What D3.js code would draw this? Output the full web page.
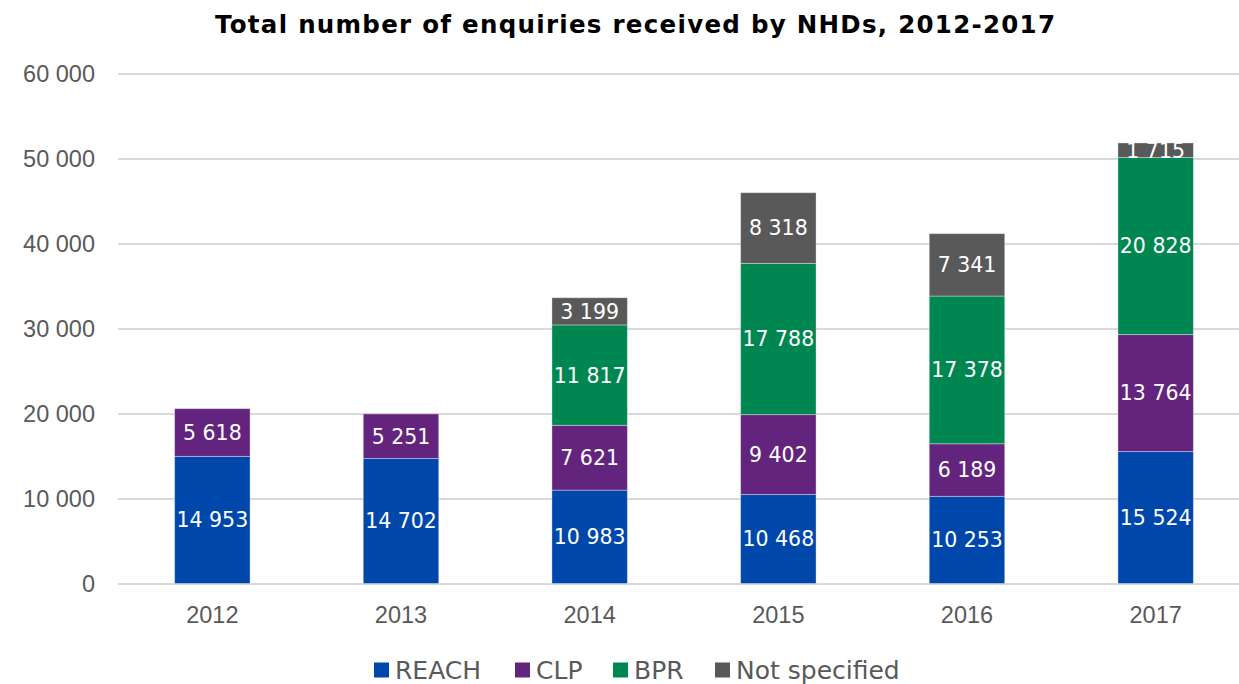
<!DOCTYPE html>
<html>
<head>
<meta charset="utf-8">
<script src="https://cdn.jsdelivr.net/npm/d3@7"></script>
<style>
  body { margin: 0; background: #fff; }
  svg { font-family: "DejaVu Sans", Verdana, sans-serif; }
</style>
</head>
<body>
<svg id="chart"></svg>
<script>
// data
const years = ['2012', '2013', '2014', '2015', '2016', '2017'];
const seriesNames = ['REACH', 'CLP', 'BPR', 'Not specified'];
const reach = [14953, 14702, 10983, 10468, 10253, 15524];
const clp = [5618, 5251, 7621, 9402, 6189, 13764];
const bpr = [0, 0, 11817, 17788, 17378, 20828];
const notSpecified = [0, 0, 3199, 8318, 7341, 1715];
const yTicks = [0, 10000, 20000, 30000, 40000, 50000, 60000];

const colors = ['#0047ab', '#63247d', '#008751', '#595959'];
const config = {
    width: 1239,
    height: 684,
    left: 118,
    right: 1250,
    top: 73.5,
    bottom: 583.5
};

const locale = d3.formatLocale({decimal: ',', thousands: '\u00a0', grouping: [3], currency: ['', '']});
const fmt = locale.format(',d');

// build table for the stack
const table = years.map((y, i) => ({
    year: y,
    'REACH': reach[i],
    'CLP': clp[i],
    'BPR': bpr[i],
    'Not specified': notSpecified[i]
}));
const stacked = d3.stack().keys(seriesNames)(table);

let svg = d3.select('#chart')
    .attr('width', config.width)
    .attr('height', config.height);

// scales
let xScale = d3.scaleBand()
    .domain(years)
    .range([config.left, config.right])
    .paddingInner(0.6)
    .paddingOuter(0.3);

let yScale = d3.scaleLinear()
    .domain([0, 60000])
    .range([config.bottom, config.top]);

// gridlines + y labels
let yAxis = svg.append('g')
    .attr('transform', `translate(${config.left},0)`)
    .call(d3.axisLeft(yScale).tickValues(yTicks).tickFormat(fmt)
        .tickSize(-(config.width - config.left)).tickPadding(23));
yAxis.select('.domain').remove();
yAxis.selectAll('line').attr('stroke', '#d9d9d9').attr('stroke-width', 2);
yAxis.selectAll('text').attr('fill', '#595959').style('font-size', '23.5px');

// x labels
let xAxis = svg.append('g')
    .attr('transform', `translate(0,${config.bottom})`)
    .call(d3.axisBottom(xScale).tickSize(0).tickPadding(23));
xAxis.select('.domain').remove();
xAxis.selectAll('text').attr('fill', '#595959').style('font-size', '23.5px');

// bars
let groups = svg.selectAll('g.series')
    .data(stacked)
    .enter()
    .append('g')
    .attr('class', 'series')
    .attr('fill', (d, i) => colors[i]);

groups.selectAll('rect')
    .data(d => d.filter(s => s[1] - s[0] > 0))
    .enter()
    .append('rect')
    .attr('x', d => xScale(d.data.year))
    .attr('width', xScale.bandwidth())
    .attr('y', d => yScale(d[1]))
    .attr('height', d => yScale(d[0]) - yScale(d[1]))
    .attr('stroke', '#ffffff')
    .attr('stroke-opacity', 0.35)
    .attr('stroke-width', 1);

groups.selectAll('text')
    .data(d => d.filter(s => s[1] - s[0] > 0))
    .enter()
    .append('text')
    .attr('x', d => xScale(d.data.year) + xScale.bandwidth() / 2)
    .attr('y', d => yScale((d[0] + d[1]) / 2))
    .attr('dy', '0.36em')
    .attr('text-anchor', 'middle')
    .attr('fill', '#ffffff')
    .style('font-size', '20.5px')
    .text(d => fmt(d[1] - d[0]));

// title
svg.append('text')
    .attr('x', 635)
    .attr('y', 33)
    .attr('text-anchor', 'middle')
    .attr('textLength', 840)
    .attr('lengthAdjust', 'spacing')
    .style('font-size', '24.5px')
    .style('font-weight', 'bold')
    .attr('fill', '#000')
    .text('Total number of enquiries received by NHDs, 2012-2017');

// legend
const legendX = [374, 515, 613, 715];
let legend = svg.append('g').attr('transform', 'translate(0,670)');
let items = legend.selectAll('g')
    .data(seriesNames)
    .enter()
    .append('g')
    .attr('transform', (d, i) => `translate(${legendX[i]},0)`);
items.append('rect')
    .attr('x', 0)
    .attr('y', -7.5)
    .attr('width', 15)
    .attr('height', 15)
    .attr('fill', (d, i) => colors[i]);
items.append('text')
    .attr('x', 21)
    .attr('y', 9)
    .attr('fill', '#595959')
    .style('font-size', '25px')
    .text(d => d);
</script>
</body>
</html>
